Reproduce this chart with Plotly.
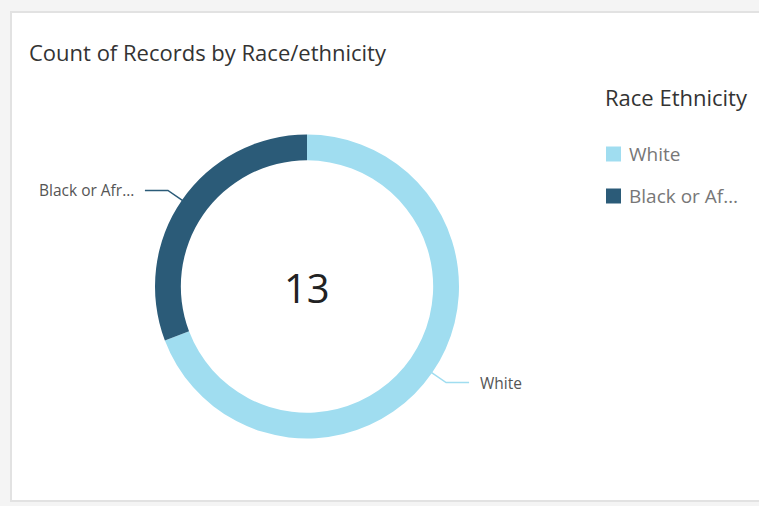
import math
import plotly.graph_objects as go

# ---- data ----
categories = ["White", "Black or African American"]
values = [9, 4]
legend_labels = ["White", "Black or Af\u2026"]
slice_labels = ["White", "Black or Afr..."]
colors = ["#a0ddf0", "#2b5b78"]
title_text = "Count of Records by Race/ethnicity"
legend_title = "Race Ethnicity"
total = sum(values)

W, H = 759, 506
FONT = "Open Sans"

# pie geometry in pixels
cx, cy, R = 307, 286.5, 152
def px(x):
    return x / W
def py(y):
    return 1 - y / H

fig = go.Figure()
fig.add_trace(go.Pie(
    labels=categories,
    values=values,
    hole=0.83,
    sort=False,
    direction="clockwise",
    rotation=0,
    marker=dict(colors=colors, line=dict(width=0)),
    textinfo="none",
    hoverinfo="label+value",
    showlegend=False,
    domain=dict(x=[px(cx - R), px(cx + R)], y=[py(cy + R), py(cy - R)]),
))

shapes = []
annotations = []

# card
shapes.append(dict(type="rect", xref="paper", yref="paper",
                   x0=px(11), x1=px(W + 5), y0=py(501), y1=py(12),
                   fillcolor="white", line=dict(color="#e2e2e2", width=2),
                   layer="below"))

# title
annotations.append(dict(text=title_text, xref="paper", yref="paper",
                        x=px(27), y=py(52), xanchor="left", yanchor="middle",
                        showarrow=False, font=dict(family=FONT, size=22, color="#333333")))

# center total
annotations.append(dict(text=str(total), xref="paper", yref="paper",
                        x=px(cx), y=py(cy + 1), xanchor="center", yanchor="middle",
                        showarrow=False, font=dict(family=FONT, size=40, color="#222222")))

# slice leader lines and labels, computed from the data angles
cum = 0
for val, lab, col in zip(values, slice_labels, colors):
    mid = (cum + val / 2) / total * 2 * math.pi
    cum += val
    s, c = math.sin(mid), math.cos(mid)
    x1, y1 = cx + (R - 1) * s, cy - (R - 1) * c
    x2, y2 = cx + (R + 17) * s, cy - (R + 17) * c
    side = 1 if s >= 0 else -1
    x3 = x2 + side * 23
    path = f"M {px(x1)},{py(y1)} L {px(x2)},{py(y2)} L {px(x3)},{py(y2)}"
    shapes.append(dict(type="path", xref="paper", yref="paper", path=path,
                       line=dict(color=col, width=1.5)))
    annotations.append(dict(text=lab, xref="paper", yref="paper",
                            x=px(x3 + side * 9), y=py(y2),
                            xanchor="left" if side > 0 else "right", yanchor="middle",
                            showarrow=False, font=dict(family=FONT, size=15.5, color="#555555")))

# legend
annotations.append(dict(text=legend_title, xref="paper", yref="paper",
                        x=px(603), y=py(97), xanchor="left", yanchor="middle",
                        showarrow=False, font=dict(family=FONT, size=22, color="#333333")))
for i, (lab, col) in enumerate(zip(legend_labels, colors)):
    yc = 154 + i * 42
    shapes.append(dict(type="rect", xref="paper", yref="paper",
                       x0=px(606), x1=px(621), y0=py(yc + 7.5), y1=py(yc - 7.5),
                       fillcolor=col, line=dict(width=0)))
    annotations.append(dict(text=lab, xref="paper", yref="paper",
                            x=px(627), y=py(yc), xanchor="left", yanchor="middle",
                            showarrow=False, font=dict(family=FONT, size=19, color="#777777")))

fig.update_layout(
    width=W, height=H,
    margin=dict(l=0, r=0, t=0, b=0),
    paper_bgcolor="#f4f4f4",
    plot_bgcolor="#f4f4f4",
    shapes=shapes,
    annotations=annotations,
    showlegend=False,
)

fig.write_html("out.html", config={"displayModeBar": False},
               post_script="document.body.style.margin='0';document.body.style.background='#f4f4f4';")
